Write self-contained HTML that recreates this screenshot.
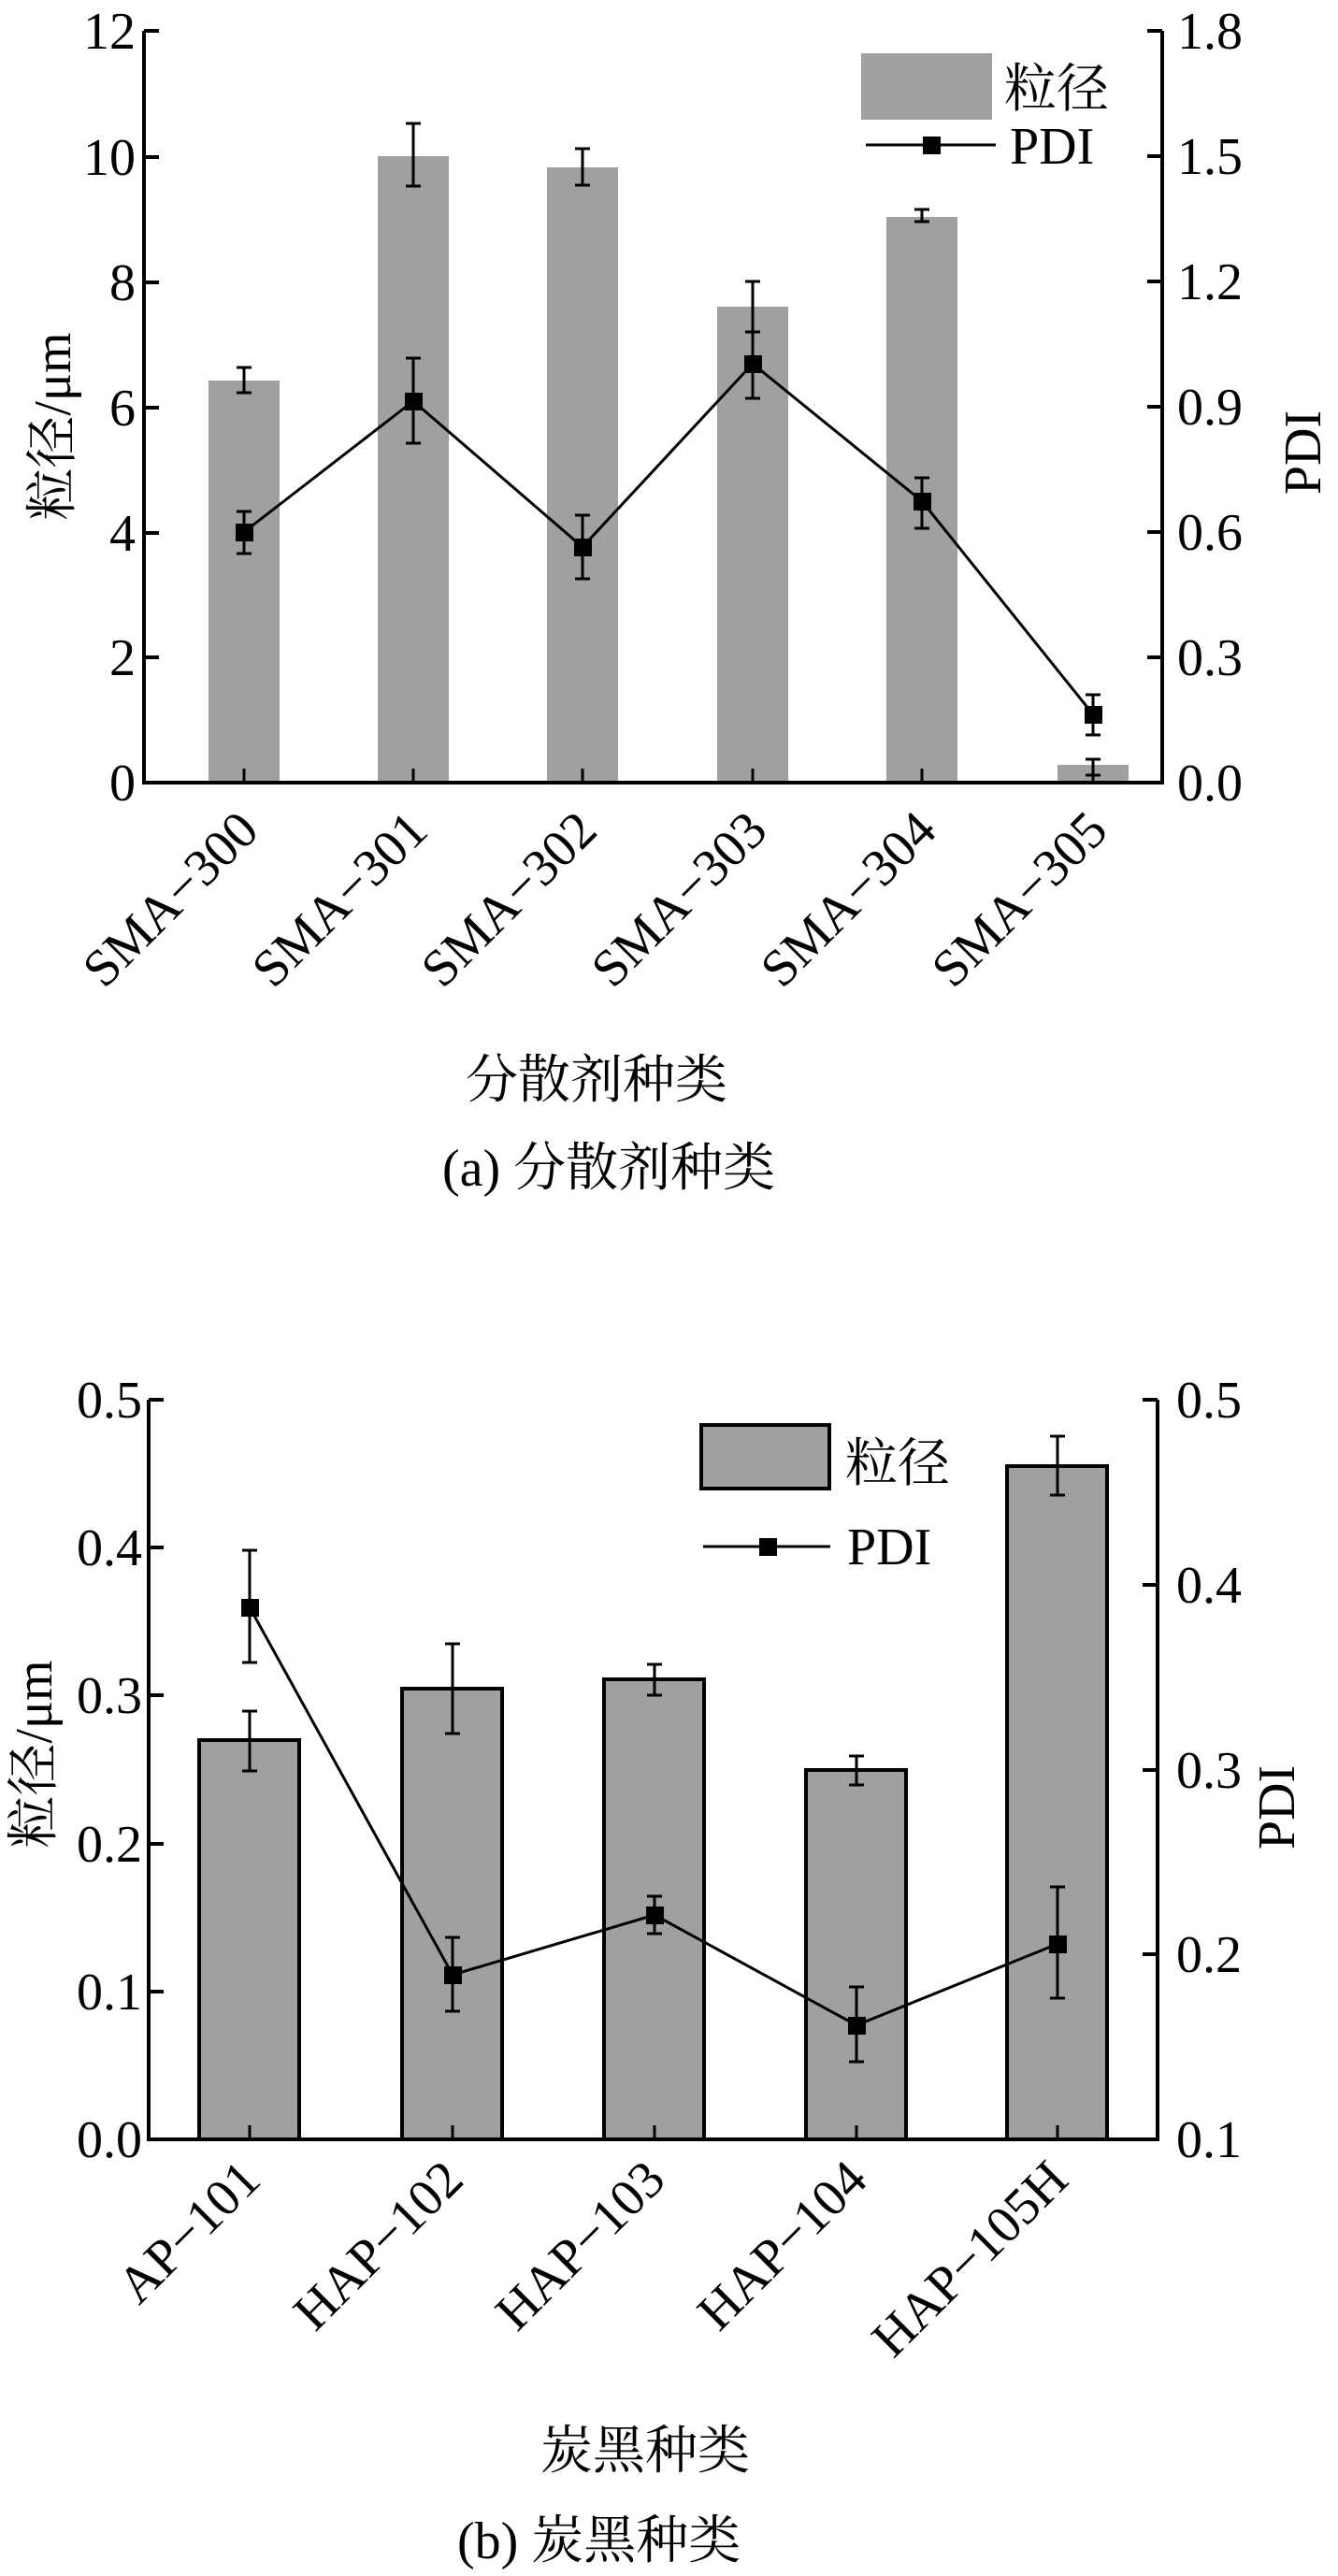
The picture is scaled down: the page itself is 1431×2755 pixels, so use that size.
<!DOCTYPE html>
<html><head><meta charset="utf-8"><style>
html,body{margin:0;padding:0;background:#fff;}
svg{display:block;}
</style></head><body>
<svg width="1431" height="2755" viewBox="0 0 1431 2755" xmlns="http://www.w3.org/2000/svg" font-family="'Liberation Serif','Times New Roman','Noto Serif CJK SC',serif" fill="#000">
<!-- ===== Chart A ===== -->
<g fill="#a0a0a0">
<rect x="223" y="407" width="76" height="430"/>
<rect x="404" y="167" width="76" height="670"/>
<rect x="585" y="179" width="76" height="658"/>
<rect x="767" y="328" width="76" height="509"/>
<rect x="948" y="232" width="76" height="605"/>
<rect x="1131" y="818" width="76" height="19"/>
</g>
<g stroke="#000" stroke-width="3" fill="none">
<path d="M261 393V420M253 393H269M253 420H269"/>
<path d="M442 132V199M434 132H450M434 199H450"/>
<path d="M623 159V198M615 159H631M615 198H631"/>
<path d="M805 301V355M797 301H813M797 355H813"/>
<path d="M986 224V237M978 224H994M978 237H994"/>
<path d="M1169 812V829M1161 812H1177M1161 829H1177"/>
<path d="M261 547V592M253 547H269M253 592H269"/>
<path d="M442 383V474M434 383H450M434 474H450"/>
<path d="M623 551V619M615 551H631M615 619H631"/>
<path d="M805 355V426M797 355H813M797 426H813"/>
<path d="M986 511V565M978 511H994M978 565H994"/>
<path d="M1169 743V786M1161 743H1177M1161 786H1177"/>
<polyline points="261,569 442,429 623,585 805,389 986,536 1169,764"/>
</g>
<g fill="#000">
<rect x="252" y="560" width="19" height="19"/>
<rect x="433" y="420" width="19" height="19"/>
<rect x="614" y="576" width="19" height="19"/>
<rect x="796" y="380" width="19" height="19"/>
<rect x="977" y="527" width="19" height="19"/>
<rect x="1160" y="755" width="19" height="19"/>
</g>
<g stroke="#000" stroke-width="4" fill="none">
<path d="M154 33V837H1243V33"/>
<path d="M154 33H170M154 168H170M154 302H170M154 436H170M154 570H170M154 703H170"/>
<path d="M1243 33H1227M1243 167H1227M1243 301H1227M1243 435H1227M1243 569H1227M1243 703H1227"/>
<path d="M261 837V822M442 837V822M623 837V822M805 837V822M986 837V822M1169 837V822" stroke-width="3"/>
</g>
<g font-size="56" text-anchor="end">
<text x="145" y="52">12</text>
<text x="145" y="187">10</text>
<text x="145" y="321">8</text>
<text x="145" y="455">6</text>
<text x="145" y="589">4</text>
<text x="145" y="722">2</text>
<text x="145" y="856">0</text>
</g>
<g font-size="56">
<text x="1259" y="52">1.8</text>
<text x="1259" y="186">1.5</text>
<text x="1259" y="320">1.2</text>
<text x="1259" y="454">0.9</text>
<text x="1259" y="588">0.6</text>
<text x="1259" y="722">0.3</text>
<text x="1259" y="856">0.0</text>
</g>
<g font-size="56" text-anchor="end">
<text transform="translate(279,891) rotate(-45)">SMA−300</text>
<text transform="translate(460,891) rotate(-45)">SMA−301</text>
<text transform="translate(641,891) rotate(-45)">SMA−302</text>
<text transform="translate(823,891) rotate(-45)">SMA−303</text>
<text transform="translate(1004,891) rotate(-45)">SMA−304</text>
<text transform="translate(1187,891) rotate(-45)">SMA−305</text>
</g>
<text transform="translate(75,456) rotate(-90)" font-size="56" text-anchor="middle">粒径/μm</text>
<text transform="translate(1412,484) rotate(-90)" font-size="56" text-anchor="middle">PDI</text>
<rect x="921" y="57" width="140" height="71" fill="#a0a0a0"/>
<text x="1074" y="114" font-size="56">粒径</text>
<path d="M926 155H1065" stroke="#000" stroke-width="3"/>
<rect x="987" y="146" width="19" height="19" fill="#000"/>
<text x="1080" y="175" font-size="56">PDI</text>
<text x="498" y="1174" font-size="56">分散剂种类</text>
<text x="473" y="1268" font-size="56">(a) 分散剂种类</text>

<!-- ===== Chart B ===== -->
<g fill="#a0a0a0" stroke="#000" stroke-width="4">
<rect x="213" y="1861" width="107" height="427"/>
<rect x="430" y="1806" width="107" height="482"/>
<rect x="646" y="1796" width="107" height="492"/>
<rect x="862" y="1893" width="107" height="395"/>
<rect x="1077" y="1568" width="107" height="720"/>
</g>
<g stroke="#000" stroke-width="3" fill="none">
<path d="M267 2273V2288M484 2273V2288M700 2273V2288M916 2273V2288M1131 2273V2288"/>
<path d="M267 1830V1894M259 1830H275M259 1894H275"/>
<path d="M484 1758V1854M476 1758H492M476 1854H492"/>
<path d="M700 1780V1813M692 1780H708M692 1813H708"/>
<path d="M916 1878V1909M908 1878H924M908 1909H924"/>
<path d="M1131 1536V1599M1123 1536H1139M1123 1599H1139"/>
<path d="M267 1658V1778M259 1658H275M259 1778H275"/>
<path d="M484 2072V2151M476 2072H492M476 2151H492"/>
<path d="M700 2028V2068M692 2028H708M692 2068H708"/>
<path d="M916 2125V2205M908 2125H924M908 2205H924"/>
<path d="M1131 2018V2137M1123 2018H1139M1123 2137H1139"/>
<polyline points="267,1719 484,2112 700,2048 916,2166 1131,2079"/>
</g>
<g fill="#000">
<rect x="258" y="1710" width="19" height="19"/>
<rect x="475" y="2103" width="19" height="19"/>
<rect x="691" y="2039" width="19" height="19"/>
<rect x="907" y="2157" width="19" height="19"/>
<rect x="1122" y="2070" width="19" height="19"/>
</g>
<g stroke="#000" stroke-width="4" fill="none">
<path d="M159 1497V2288H1238V1497"/>
<path d="M159 1497H175M159 1655H175M159 1813H175M159 1972H175M159 2130H175"/>
<path d="M1238 1497H1222M1238 1695H1222M1238 1893H1222M1238 2090H1222"/>
</g>
<g font-size="56" text-anchor="end">
<text x="152" y="1516">0.5</text>
<text x="152" y="1674">0.4</text>
<text x="152" y="1832">0.3</text>
<text x="152" y="1991">0.2</text>
<text x="152" y="2149">0.1</text>
<text x="152" y="2307">0.0</text>
</g>
<g font-size="56">
<text x="1258" y="1516">0.5</text>
<text x="1258" y="1714">0.4</text>
<text x="1258" y="1912">0.3</text>
<text x="1258" y="2109">0.2</text>
<text x="1258" y="2307">0.1</text>
</g>
<g font-size="56" text-anchor="end">
<text transform="translate(281,2334) rotate(-45)">AP−101</text>
<text transform="translate(498,2334) rotate(-45)">HAP−102</text>
<text transform="translate(714,2334) rotate(-45)">HAP−103</text>
<text transform="translate(930,2334) rotate(-45)">HAP−104</text>
<text transform="translate(1145,2334) rotate(-45)">HAP−105H</text>
</g>
<text transform="translate(55,1876) rotate(-90)" font-size="56" text-anchor="middle">粒径/μm</text>
<text transform="translate(1384,1933) rotate(-90)" font-size="56" text-anchor="middle">PDI</text>
<rect x="750" y="1524" width="137" height="68" fill="#a0a0a0" stroke="#000" stroke-width="4"/>
<text x="904" y="1584" font-size="56">粒径</text>
<path d="M752 1654H888" stroke="#000" stroke-width="3"/>
<rect x="812" y="1645" width="19" height="19" fill="#000"/>
<text x="906" y="1673" font-size="56">PDI</text>
<text x="578" y="2640" font-size="56">炭黑种类</text>
<text x="489" y="2736" font-size="56">(b) 炭黑种类</text>
</svg>
</body></html>
